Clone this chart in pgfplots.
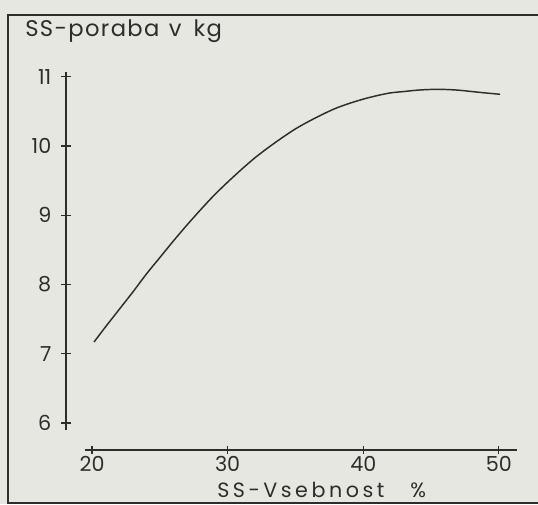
\documentclass[border=0pt]{standalone}
\usepackage{pgfplots}
\pgfplotsset{compat=1.18}
\usepackage{fontspec}
\setmainfont{Poppins}
\definecolor{paper}{RGB}{231,231,225}
\definecolor{ink}{RGB}{45,45,45}
\newcommand{\ticfont}{\fontsize{15.5}{18}\selectfont}
\newcommand{\ylblfont}{\fontsize{17}{20}\selectfont\addfontfeature{LetterSpace=6}}
\newcommand{\xlblfont}{\fontsize{15.5}{18}\selectfont\addfontfeature{LetterSpace=17}}
\begin{document}
\begin{tikzpicture}
% px coordinate scope: (px,py) with origin at top-left of 538x504 image
\begin{scope}[x=0.75pt,y=-0.75pt,yshift=378pt]
  \fill[paper] (0,0) rectangle (538,504);
\end{scope}
% hidden data axis covering the whole picture
\begin{axis}[at={(0,0)},anchor=south west,scale only axis,
  width=403.5pt,height=378pt,
  xmin=13.215,xmax=52.891,ymin=4.8295,ymax=12.1127,
  hide axis,clip=false]
  \addplot[ink,line width=1.1pt,smooth] coordinates {
    (20.15,7.17) (21,7.39) (22,7.64) (23,7.89) (24,8.15) (25,8.39)
    (26,8.63) (27,8.86) (28,9.08) (29,9.29) (30,9.48) (31,9.66)
    (32,9.83) (33,9.98) (34,10.12) (35,10.25) (36,10.36) (37,10.46)
    (38,10.55) (39,10.62) (40,10.68) (41,10.73) (42,10.77) (43,10.79)
    (44,10.81) (45,10.82) (46,10.82) (47,10.81) (48,10.79) (49,10.77)
    (50.1,10.75)};
\end{axis}
% x axis
\begin{axis}[at={(63.75pt,40.5pt)},anchor=south west,scale only axis,
  width=324pt,height=20pt,
  xmin=19.48,xmax=51.34,ymin=0,ymax=1,
  axis x line=bottom,axis y line=none,
  axis line style={-,ink,line width=1.2pt},
  xtick={20,30,40,50},
  tick align=center,major tick length=6pt,
  tick style={ink,line width=0.9pt},
  xticklabel style={font=\ticfont,text=ink,yshift=2pt},
  /pgf/number format/assume math mode=true]
\end{axis}
% y axis
\begin{axis}[at={(49.5pt,55.5pt)},anchor=south west,scale only axis,
  width=20pt,height=268.5pt,
  xmin=0,xmax=1,ymin=5.90,ymax=11.07,
  axis y line=left,axis x line=none,
  axis line style={-,ink,line width=1.2pt},
  ytick={6,7,8,9,10,11},
  tick align=center,major tick length=7pt,
  tick style={ink,line width=0.9pt},
  yticklabel style={font=\ticfont,text=ink,xshift=-4pt},
  /pgf/number format/assume math mode=true]
\end{axis}
\begin{scope}[x=0.75pt,y=-0.75pt,yshift=378pt]
  % frame
  \draw[ink,line width=1.5pt] (545,15) -- (8,15) -- (8,503) -- (545,503);
  \node[anchor=base west,inner sep=0pt,text=ink,font=\ylblfont] at (25,37) {SS-poraba\hspace{7pt}v\hspace{9pt}kg};
  \node[anchor=base west,inner sep=0pt,text=ink,font=\xlblfont] at (217,497) {SS-Vsebnost};
  \node[anchor=base west,inner sep=0pt,text=ink,font=\xlblfont] at (410,497) {\%};
\end{scope}
\pgfresetboundingbox
\path (0,0) rectangle (403.5pt,378pt);
\end{tikzpicture}
\end{document}
